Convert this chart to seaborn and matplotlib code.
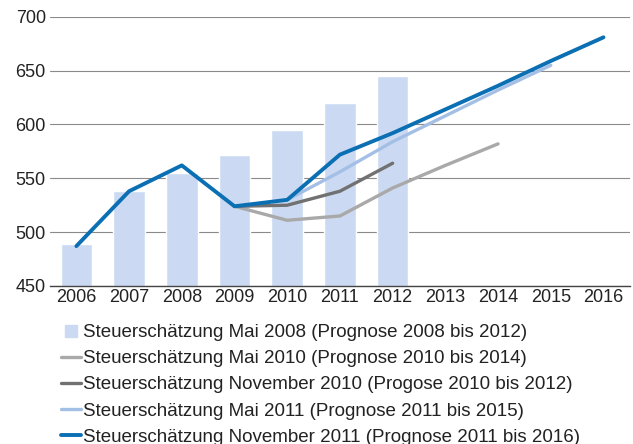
import matplotlib
matplotlib.use("Agg")
import matplotlib.pyplot as plt
from matplotlib.lines import Line2D
import pandas as pd
import seaborn as sns

# years on the category axis
years = [2006, 2007, 2008, 2009, 2010, 2011, 2012, 2013, 2014, 2015, 2016]

# Steuerschätzung Mai 2008 (bars), 2006-2012
bar_years = [2006, 2007, 2008, 2009, 2010, 2011, 2012]
bar_mai2008 = [489, 538, 555, 572, 595, 620, 645]

# Steuerschätzung Mai 2010, 2009-2014
years_mai2010 = [2009, 2010, 2011, 2012, 2013, 2014]
mai2010 = [524, 511, 515, 541, 562, 582]

# Steuerschätzung November 2010, 2009-2012
years_nov2010 = [2009, 2010, 2011, 2012]
nov2010 = [524, 525, 538, 564]

# Steuerschätzung Mai 2011, 2010-2015
years_mai2011 = [2010, 2011, 2012, 2013, 2014, 2015]
mai2011 = [530, 556, 584, 608, 632, 655]

# Steuerschätzung November 2011, 2006-2016
years_nov2011 = years
nov2011 = [487, 538, 562, 524, 530, 572, 592, 614, 636, 659, 681]

labels = [
    "Steuerschätzung Mai 2008 (Prognose 2008 bis 2012)",
    "Steuerschätzung Mai 2010 (Prognose 2010 bis 2014)",
    "Steuerschätzung November 2010 (Progose 2010 bis 2012)",
    "Steuerschätzung Mai 2011 (Prognose 2011 bis 2015)",
    "Steuerschätzung November 2011 (Prognose 2011 bis 2016)",
]

bar_color = "#cbdaf2"

sns.set_style("white")
plt.rcParams["font.family"] = ["Liberation Sans", "DejaVu Sans"]

fig = plt.figure(figsize=(6.33, 4.44), dpi=100)
ax = fig.add_axes([0.079, 0.356, 0.916, 0.606])

bars = pd.DataFrame({"year": [str(y) for y in bar_years], "value": bar_mai2008})
sns.barplot(
    data=bars,
    x="year",
    y="value",
    order=[str(y) for y in years],
    color=bar_color,
    saturation=1,
    width=0.6,
    ax=ax,
)


def series(yrs, vals):
    return pd.DataFrame({"pos": [years.index(y) for y in yrs], "value": vals})


lines = [
    (years_mai2010, mai2010, "#a9a9a9", 2.4),
    (years_nov2010, nov2010, "#717171", 2.4),
    (years_mai2011, mai2011, "#a4bfe6", 2.4),
    (years_nov2011, nov2011, "#0b6fb3", 2.8),
]
handles = [
    Line2D([], [], marker="s", markersize=9, color=bar_color, linestyle="none")
]
for (yrs, vals, color, lw), label in zip(lines, labels[1:]):
    sns.lineplot(
        data=series(yrs, vals),
        x="pos",
        y="value",
        color=color,
        linewidth=lw,
        ax=ax,
    )
    handles.append(Line2D([], [], color=color, linewidth=lw))

ax.set_xlim(-0.5, 10.5)
ax.set_ylim(450, 700)
ax.set_yticks([450, 500, 550, 600, 650, 700])
ax.set_xticks(range(len(years)))
ax.set_xticklabels([str(y) for y in years])
ax.set_xlabel("")
ax.set_ylabel("")
ax.grid(axis="y", color="#8a8a8a", linewidth=0.8)
ax.set_axisbelow(True)
for side in ["top", "right", "left"]:
    ax.spines[side].set_visible(False)
ax.spines["bottom"].set_color("#444444")
ax.spines["bottom"].set_linewidth(1.0)
ax.tick_params(axis="both", length=0, labelsize=13, colors="#222222")
ax.tick_params(axis="y", pad=3)
ax.tick_params(axis="x", pad=2)

fig.legend(
    handles,
    labels,
    loc="upper left",
    bbox_to_anchor=(0.0964, 0.27),
    frameon=False,
    fontsize=13.5,
    handlelength=1.07,
    handletextpad=0.1,
    labelspacing=0.48,
    borderaxespad=0,
    borderpad=0,
    labelcolor="#222222",
)

fig.savefig("out.png", dpi=100)
